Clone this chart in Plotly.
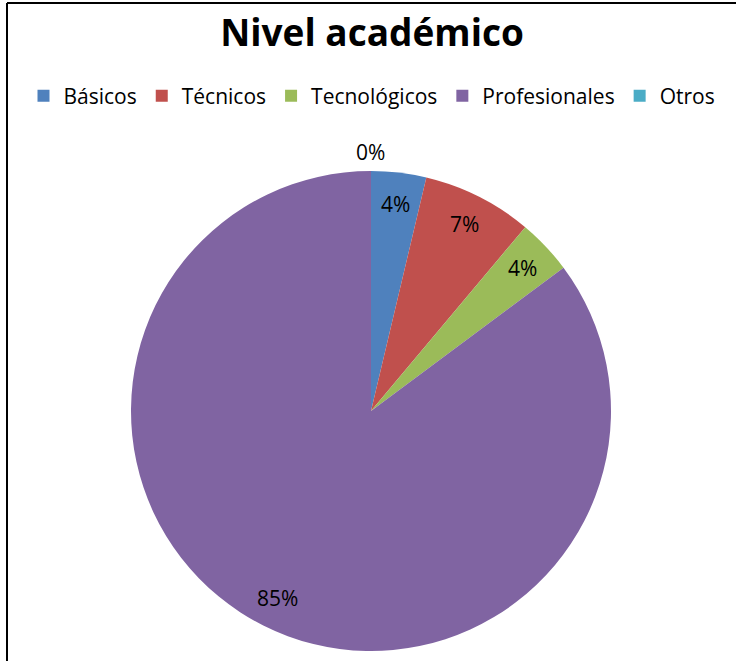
import math
import plotly.graph_objects as go

# ---- data ----
categories = ["Básicos", "Técnicos", "Tecnológicos", "Profesionales", "Otros"]
counts = [1, 2, 1, 23, 0]
colors = ["#4F81BD", "#C0504D", "#9BBB59", "#8064A2", "#4BACC6"]
title_text = "Nivel académico"

W, H = 736, 661
FONT = "Open Sans"

# pie geometry (pixels)
cx, cy, R = 371, 411, 240


def px_x(v):
    return v / W


def px_y(v):
    return 1 - v / H


fig = go.Figure(
    go.Pie(
        labels=categories,
        values=counts,
        marker=dict(colors=colors, line=dict(width=0)),
        sort=False,
        direction="clockwise",
        rotation=0,
        textinfo="none",
        hoverinfo="label+percent",
        domain=dict(x=[px_x(cx - R), px_x(cx + R)], y=[px_y(cy + R), px_y(cy - R)]),
    )
)

# data labels derived from the values (percent at slice mid-angle)
total = sum(counts)
cum = 0.0
annotations = []
for name, v in zip(categories, counts):
    frac = v / total
    mid = (cum + frac / 2) * 2 * math.pi
    cum += frac
    r = R * (1.08 if v == 0 else 0.87)
    x = cx + r * math.sin(mid)
    y = cy - r * math.cos(mid)
    annotations.append(
        dict(
            x=px_x(x), y=px_y(y), xref="paper", yref="paper",
            text=f"{round(frac * 100)}%", showarrow=False,
            xanchor="center", yanchor="middle",
            font=dict(family=FONT, size=21, color="#000000"),
        )
    )

fig.update_layout(
    width=W,
    height=H,
    margin=dict(l=0, r=0, t=0, b=0),
    paper_bgcolor="white",
    plot_bgcolor="white",
    title=dict(
        text=f"<b>{title_text}</b>",
        x=372 / W, xanchor="center",
        y=px_y(33), yanchor="middle",
        font=dict(family=FONT, size=37, color="#000000"),
    ),
    showlegend=True,
    legend=dict(
        orientation="h",
        x=372 / W, xanchor="center",
        y=px_y(96), yanchor="middle",
        font=dict(family=FONT, size=21, color="#000000"),
        traceorder="normal",
        bgcolor="rgba(0,0,0,0)",
    ),
    annotations=annotations,
    shapes=[
        dict(type="line", xref="paper", yref="paper",
             x0=px_x(7), x1=1.0, y0=px_y(3), y1=px_y(3),
             line=dict(color="#000000", width=2)),
        dict(type="line", xref="paper", yref="paper",
             x0=px_x(7), x1=px_x(7), y0=px_y(3), y1=0,
             line=dict(color="#000000", width=2)),
    ],
)

fig.write_html(
    "out.html",
    config={"displayModeBar": False},
    post_script="document.body.style.margin='0px';document.body.style.overflow='hidden';",
)
